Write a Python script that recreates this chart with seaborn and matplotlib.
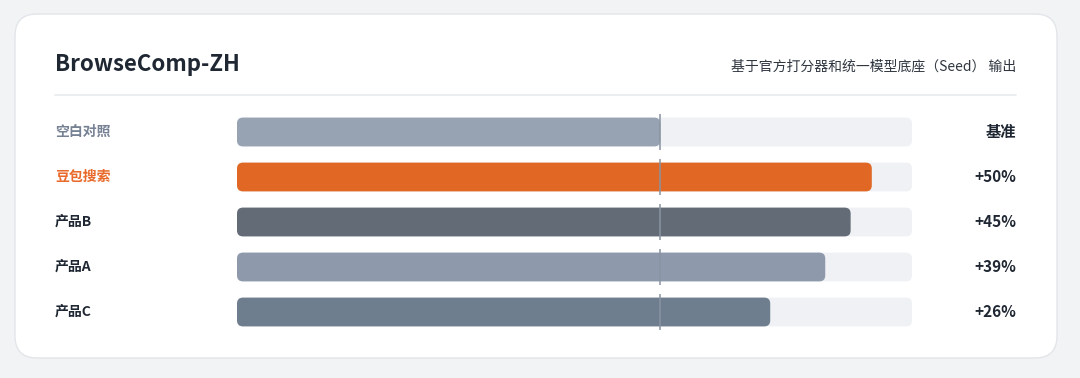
#!/usr/bin/env python3
import matplotlib
matplotlib.use('Agg')
import matplotlib.pyplot as plt
import pandas as pd
import seaborn as sns
from matplotlib.patches import FancyBboxPatch
from matplotlib.transforms import blended_transform_factory

# data (score relative to the blank control = 1.0)
names = ['空白对照', '豆包搜索', '产品B', '产品A', '产品C']
scores = [1.00, 1.50, 1.45, 1.39, 1.26]
value_labels = ['基准', '+50%', '+45%', '+39%', '+26%']
bar_colors = ['#97a2b2', '#e06824', '#626b76', '#8e9aab', '#6f7e8e']
label_colors = ['#768294', '#e8692a', '#1f2733', '#1f2733', '#1f2733']
BASE = 1.0
XMAX = 1.595

title = 'BrowseComp-ZH'
subtitle = '基于官方打分器和统一模型底座（Seed） 输出'

W, H = 1080, 378
sns.set_theme(style='white')
plt.rcParams['font.family'] = ['Noto Sans CJK SC', 'DejaVu Sans']

fig = plt.figure(figsize=(W / 100, H / 100), dpi=100)
fig.patch.set_facecolor('#f2f3f5')

# background layer in pixel coordinates
bg = fig.add_axes([0, 0, 1, 1], zorder=0)
bg.set_xlim(0, W)
bg.set_ylim(H, 0)
bg.axis('off')
bg.add_patch(FancyBboxPatch((15, 14), 1042, 344,
                            boxstyle='round,pad=0,rounding_size=22',
                            fc='white', ec='#e2e5e9', lw=1.0))
bg.text(55, 64, title, fontsize=16, fontweight='bold', color='#1f2733',
        va='center', ha='left')
bg.text(1016, 67, subtitle, fontsize=10, color='#2f3640', va='center', ha='right')
bg.plot([55, 1016], [95, 95], color='#e8ebef', lw=1.2)

# chart axes: track spans x 237..912 px, rows 45 px apart
left, right = 237, 912
top, bottom = 109.5, 334.5
ax = fig.add_axes([left / W, (H - bottom) / H, (right - left) / W, (bottom - top) / H],
                  zorder=1)
ax.set_facecolor('none')

df = pd.DataFrame({'name': names, 'score': scores, 'track': [XMAX] * len(names)})

sns.barplot(data=df, x='track', y='name', orient='h', color='#eff1f4',
            saturation=1, width=0.64, ax=ax)
n_track = len(ax.patches)
sns.barplot(data=df, x='score', y='name', hue='name', orient='h',
            palette=bar_colors, saturation=1, width=0.64, legend=False, ax=ax)

ax.set_xlim(0, XMAX)
ax.set_ylim(len(names) - 0.5, -0.5)
ax.axis('off')

# turn bars into rounded bars
x0, y0 = ax.transData.inverted().transform((0, 0))
x1, y1 = ax.transData.inverted().transform((1, 1))
dx, dy = abs(x1 - x0), abs(y1 - y0)
radius = 6
for i, p in enumerate(list(ax.patches)):
    fb = FancyBboxPatch((p.get_x(), p.get_y()), p.get_width(), p.get_height(),
                        boxstyle=f'round,pad=0,rounding_size={radius * dx}',
                        mutation_aspect=dy / dx, fc=p.get_facecolor(), ec='none',
                        zorder=1 if i < n_track else 2)
    p.remove()
    ax.add_patch(fb)

# baseline marker
for i in range(len(names)):
    ax.vlines(BASE, i - 0.41, i + 0.41, color='#8893a2', lw=1.1, zorder=3)

trans = blended_transform_factory(bg.transData, ax.transData)
for i, (name, lab) in enumerate(zip(names, value_labels)):
    ax.text(55, i, name, transform=trans, fontsize=10, fontweight='bold',
            color=label_colors[i], va='center', ha='left')
    ax.text(1016, i, lab, transform=trans, fontsize=11, fontweight='bold',
            color='#1f2733', va='center', ha='right')

fig.savefig('out.png', dpi=100, facecolor=fig.get_facecolor())
